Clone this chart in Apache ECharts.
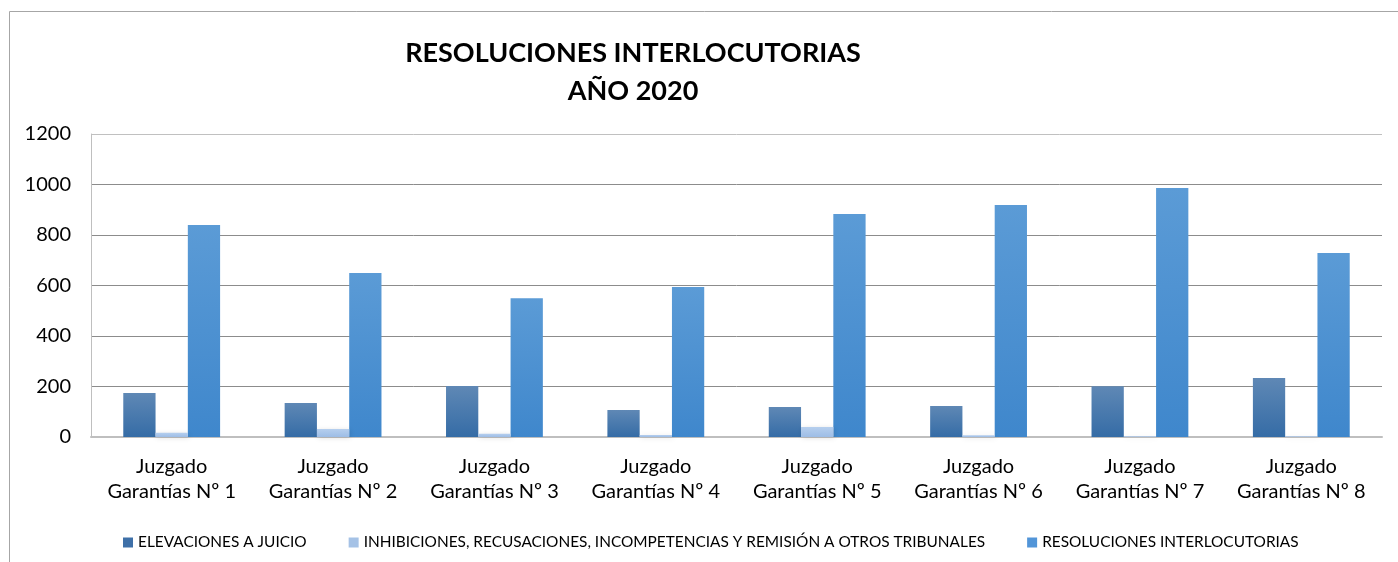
<!DOCTYPE html>
<html>
<head>
<meta charset="utf-8">
<script src="https://cdn.jsdelivr.net/npm/echarts@6/dist/echarts.min.js"></script>
<style>
  html, body { margin: 0; padding: 0; background: #fff; }
  #chart { width: 1398px; height: 562px; }
</style>
</head>
<body>
<div id="chart"></div>
<script>
  // datos
  const juzgados = [
    'Juzgado\nGarantías Nº 1', 'Juzgado\nGarantías Nº 2', 'Juzgado\nGarantías Nº 3', 'Juzgado\nGarantías Nº 4',
    'Juzgado\nGarantías Nº 5', 'Juzgado\nGarantías Nº 6', 'Juzgado\nGarantías Nº 7', 'Juzgado\nGarantías Nº 8'
  ];
  const elevaciones = [174, 135, 202, 107, 119, 123, 201, 234];
  const inhibiciones = [17, 32, 13, 8, 40, 7, 3, 3];
  const resoluciones = [840, 650, 550, 594, 883, 919, 986, 729];
  const seriesNames = [
    'ELEVACIONES A JUICIO',
    'INHIBICIONES, RECUSACIONES, INCOMPETENCIAS Y REMISIÓN A OTROS TRIBUNALES',
    'RESOLUCIONES INTERLOCUTORIAS'
  ];

  const font = 'Lato, "Open Sans", sans-serif';
  const chart = echarts.init(document.getElementById('chart'));

  function grad(top, bottom) {
    return new echarts.graphic.LinearGradient(0, 0, 0, 1, [
      { offset: 0, color: top },
      { offset: 1, color: bottom }
    ]);
  }

  const barStyle = (color, shadow) => ({
    color: color,
    shadowColor: shadow,
    shadowBlur: 5,
    shadowOffsetX: 1,
    shadowOffsetY: 1
  });

  const option = {
    backgroundColor: '#fff',
    animation: false,
    graphic: [{
      type: 'rect',
      shape: { x: 9.5, y: 11.5, width: 1400, height: 600 },
      style: { fill: 'none', stroke: '#a6a6a6', lineWidth: 1 },
      silent: true
    }],
    title: {
      text: 'RESOLUCIONES INTERLOCUTORIAS\nAÑO 2020',
      left: 628,
      textAlign: 'center',
      top: 29,
      textStyle: {
        fontFamily: font,
        fontSize: 27,
        fontWeight: 'bold',
        color: '#000',
        lineHeight: 38
      }
    },
    legend: {
      left: 118,
      top: 530,
      itemWidth: 10,
      itemHeight: 10,
      itemGap: 42,
      icon: 'rect',
      textStyle: { fontFamily: font, fontSize: 15.4, color: '#000' },
      data: seriesNames
    },
    grid: { left: 91, right: 16, top: 134, bottom: 125 },
    xAxis: {
      type: 'category',
      data: juzgados,
      axisLine: { lineStyle: { color: '#bfbfbf', width: 2 } },
      axisTick: { show: false },
      axisLabel: {
        interval: 0,
        fontFamily: font,
        fontSize: 20,
        color: '#000',
        lineHeight: 25,
        margin: 17
      }
    },
    yAxis: {
      type: 'value',
      min: 0,
      max: 1200,
      interval: 200,
      axisLine: { show: true, lineStyle: { color: '#bfbfbf', width: 1 } },
      axisTick: { show: false },
      axisLabel: {
        fontFamily: font,
        fontSize: 20,
        color: '#000',
        margin: 20,
        formatter: (v) => String(v)
      },
      splitLine: {
        lineStyle: {
          color: ['#8c8c8c', '#8c8c8c', '#8c8c8c', '#8c8c8c', '#8c8c8c', '#8c8c8c', '#c0c0c0'],
          width: 1
        }
      }
    },
    series: [
      {
        name: seriesNames[0],
        type: 'bar',
        data: elevaciones,
        barGap: '0%',
        barCategoryGap: '40%',
        itemStyle: barStyle(grad('#5f88b5', '#356ca6'), 'rgba(0,0,0,0.3)')
      },
      {
        name: seriesNames[1],
        type: 'bar',
        data: inhibiciones,
        z: 3,
        itemStyle: barStyle(grad('#b6cfee', '#9dbde6'), 'rgba(0,0,0,0.12)')
      },
      {
        name: seriesNames[2],
        type: 'bar',
        data: resoluciones,
        itemStyle: barStyle(grad('#5b9bd6', '#3f87cc'), 'rgba(0,0,0,0.3)')
      }
    ]
  };

  chart.setOption(option);
  // color de la leyenda sin degradado
  chart.setOption({
    legend: {
      data: [
        { name: seriesNames[0], itemStyle: { color: '#3e70a8', shadowBlur: 0 } },
        { name: seriesNames[1], itemStyle: { color: '#a5c2e6', shadowBlur: 0 } },
        { name: seriesNames[2], itemStyle: { color: '#5295d8', shadowBlur: 0 } }
      ]
    }
  });
</script>
</body>
</html>
